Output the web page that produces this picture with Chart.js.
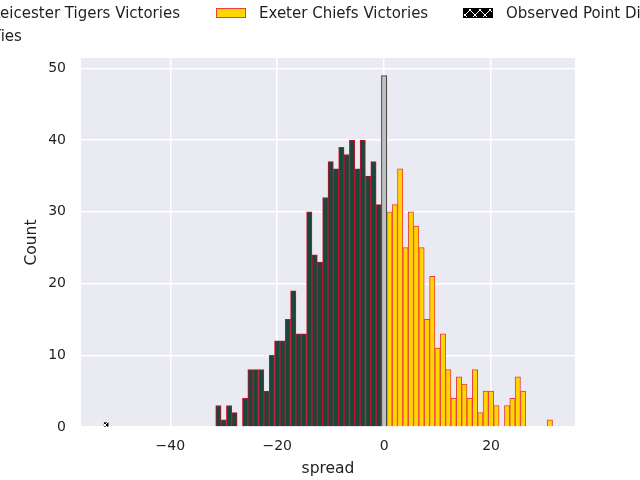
<!DOCTYPE html>
<html>
<head>
<meta charset="utf-8">
<script src="https://cdn.jsdelivr.net/npm/chart.js@4.4.0/dist/chart.umd.min.js"></script>
<style>
  html, body { margin: 0; padding: 0; background: #fff; }
  canvas { display: block; }
</style>
</head>
<body>
<canvas id="spreadChart" width="640" height="480"></canvas>
<script>
// Histogram of simulated spreads (Exeter - Leicester)
const leicesterSpread = [-31, -30, -29, -28, -27, -26, -25, -24, -23, -22, -21, -20, -19, -18, -17, -16,
  -15, -14, -13, -12, -11, -10, -9, -8, -7, -6, -5, -4, -3, -2, -1];
const leicesterCounts = [3, 1, 3, 2, 0, 4, 8, 8, 8, 5, 10, 12, 12, 15, 19, 13,
  13, 30, 24, 23, 32, 37, 36, 39, 38, 40, 36, 40, 35, 37, 31];

const tieSpread = [0];
const tieCounts = [49];

const exeterSpread = [1, 2, 3, 4, 5, 6, 7, 8, 9, 10, 11, 12, 13, 14, 15, 16,
  17, 18, 19, 20, 21, 22, 23, 24, 25, 26, 27, 28, 29, 30, 31];
const exeterCounts = [30, 31, 36, 25, 30, 28, 25, 15, 21, 11, 13, 8, 4, 7, 6, 4,
  8, 2, 5, 5, 3, 0, 3, 4, 7, 5, 0, 0, 0, 0, 1];

const observedSpread = [-52];
const observedCounts = [0.6];

const xTicks = [-40, -20, 0, 20];
const yTicks = [0, 10, 20, 30, 40, 50];

const seriesLabels = [
  "Leicester Tigers Victories",
  "Ties",
  "Exeter Chiefs Victories",
  "Observed Point Difference",
];

const toPoints = (xs, ys) => xs.map((x, i) => ({ x: x, y: ys[i] ? ys[i] : null }));

// black patch with white 'x' hatching
function makeHatch() {
  const c = document.createElement("canvas");
  c.width = 10;
  c.height = 10;
  const g = c.getContext("2d");
  g.fillStyle = "#000";
  g.fillRect(0, 0, 10, 10);
  g.strokeStyle = "#fff";
  g.lineWidth = 1;
  g.beginPath();
  g.moveTo(0, 0); g.lineTo(10, 10);
  g.moveTo(10, 0); g.lineTo(0, 10);
  g.stroke();
  return g.createPattern(c, "repeat");
}

const plotBackground = {
  id: "plotBackground",
  beforeDraw(chart) {
    const { ctx, chartArea } = chart;
    ctx.save();
    ctx.fillStyle = "#EAEAF2";
    ctx.fillRect(chartArea.left, chartArea.top, chartArea.width, chartArea.height);
    ctx.restore();
  },
};

// matplotlib-style legend sitting above the axes, wider than the figure
const topLegend = {
  id: "topLegend",
  afterDraw(chart) {
    const ctx = chart.ctx;
    const slots = [
      { ds: 0, x: -51, y: 18 },
      { ds: 1, x: -51, y: 41 },
      { ds: 2, x: 216, y: 18 },
      { ds: 3, x: 463, y: 18 },
    ];
    ctx.save();
    ctx.font = "15px 'DejaVu Sans'";
    ctx.textBaseline = "alphabetic";
    slots.forEach((s) => {
      const ds = chart.data.datasets[s.ds];
      ctx.fillStyle = ds.backgroundColor;
      ctx.fillRect(s.x, s.y - 10, 30, 10);
      ctx.strokeStyle = ds.borderColor;
      ctx.lineWidth = 1;
      ctx.strokeRect(s.x + 0.5, s.y - 9.5, 29, 9);
      ctx.fillStyle = "#1f1f1f";
      ctx.fillText(ds.label, s.x + 43, s.y);
    });
    ctx.restore();
  },
};

const minus = (v) => String(v).replace("-", "\u2212");

new Chart(document.getElementById("spreadChart"), {
  type: "bar",
  data: {
    datasets: [
      {
        label: seriesLabels[0],
        data: toPoints(leicesterSpread, leicesterCounts),
        backgroundColor: "#17483A",
        borderColor: "#C8102E",
        borderWidth: 1,
        grouped: false,
        categoryPercentage: 1,
        barPercentage: 1,
      },
      {
        label: seriesLabels[1],
        data: toPoints(tieSpread, tieCounts),
        backgroundColor: "#C0C0C0",
        borderColor: "#333333",
        borderWidth: 1,
        grouped: false,
        categoryPercentage: 1,
        barPercentage: 1,
      },
      {
        label: seriesLabels[2],
        data: toPoints(exeterSpread, exeterCounts),
        backgroundColor: "#FFD700",
        borderColor: "#EE3B45",
        borderWidth: 1,
        grouped: false,
        categoryPercentage: 1,
        barPercentage: 1,
      },
      {
        label: seriesLabels[3],
        data: toPoints(observedSpread, observedCounts),
        backgroundColor: makeHatch(),
        borderColor: "#000000",
        borderWidth: 0,
        grouped: false,
        barThickness: 4,
      },
    ],
  },
  options: {
    responsive: false,
    animation: false,
    layout: { padding: { top: 58, right: 65, left: 0, bottom: 0 } },
    plugins: {
      legend: { display: false },
      tooltip: { enabled: false },
    },
    scales: {
      x: {
        type: "linear",
        min: -56.7,
        max: 35.7,
        offset: false,
        afterFit: (s) => { s.height = 53; },
        afterBuildTicks: (s) => { s.ticks = xTicks.map((v) => ({ value: v })); },
        grid: { color: "#FFFFFF", lineWidth: 1.5, drawTicks: false, offset: false },
        border: { display: false },
        ticks: {
          padding: 11,
          color: "#1f1f1f",
          font: { family: "DejaVu Sans", size: 14 },
          callback: (v) => minus(v),
        },
        title: {
          display: true,
          text: "spread",
          color: "#1f1f1f",
          font: { family: "DejaVu Sans", size: 15.5 },
          padding: { top: 0, bottom: 2 },
        },
      },
      y: {
        min: 0,
        max: 51.45,
        afterFit: (s) => { s.width = 81; },
        afterBuildTicks: (s) => { s.ticks = yTicks.map((v) => ({ value: v })); },
        grid: { color: "#FFFFFF", lineWidth: 1.5, drawTicks: false },
        border: { display: false },
        ticks: {
          padding: 15,
          color: "#1f1f1f",
          font: { family: "DejaVu Sans", size: 14 },
          callback: (v) => minus(v),
        },
        title: {
          display: true,
          text: "Count",
          color: "#1f1f1f",
          font: { family: "DejaVu Sans", size: 15.5 },
          padding: { top: 23, bottom: 0 },
        },
      },
    },
  },
  plugins: [plotBackground, topLegend],
});
</script>
</body>
</html>
